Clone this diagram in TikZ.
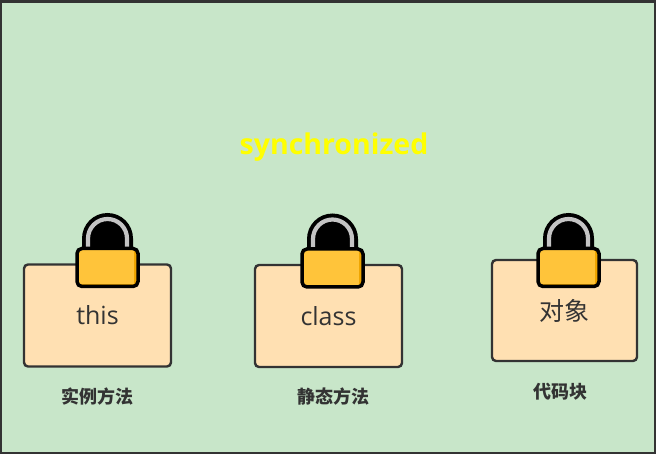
\documentclass[tikz,border=0pt]{standalone}
\usepackage{fontspec}
\setmainfont{Open Sans}
\newfontfamily\cjk{Noto Sans CJK SC}
\definecolor{bg}{HTML}{C8E6C9}
\definecolor{frame}{HTML}{333333}
\definecolor{boxfill}{HTML}{FFE0B2}
\definecolor{txt}{HTML}{333333}
\definecolor{lockyellow}{HTML}{FFC43A}
\definecolor{lockdark}{HTML}{EFA500}
\definecolor{ringgray}{HTML}{C4C4C4}
\definecolor{titleyellow}{HTML}{FFFF00}
\tikzset{
  box/.style={draw=frame, line width=2.4pt, fill=boxfill, rounded corners=4pt,
    text=txt, font=\fontsize{25}{29}\selectfont, inner sep=0pt},
  caption/.style={text=txt, font=\cjk\bfseries\fontsize{18}{21}\selectfont, inner sep=0pt},
  lock/.pic={
    \fill[black] (-25.5,4) -- (-25.5,-10) arc[start angle=180, end angle=360, radius=25.5] -- (25.5,4) -- cycle;
    \draw[ringgray, line width=4.2pt] (-19.5,4) -- (-19.5,-10) arc[start angle=180, end angle=360, radius=19.5] -- (19.5,4);
    \fill[lockyellow, rounded corners=5pt] (-30.5,0) rectangle (30.5,38);
    \begin{scope}
      \clip[rounded corners=5pt] (-30.5,0) rectangle (30.5,38);
      \fill[lockdark] (26,0) rectangle (31,38);
      \fill[lockdark] (-31,0) rectangle (-28.5,38);
      \fill[lockdark] (-31,36) rectangle (31,39);
    \end{scope}
    \draw[black, line width=3.5pt, rounded corners=5pt] (-30.5,0) rectangle (30.5,38);
  }
}
\begin{document}
\begin{tikzpicture}[x=1pt, y=-1pt]
\useasboundingbox (0,0) rectangle (656,454);
\fill[bg] (0,0) rectangle (656,454);
\draw[frame, line width=2pt] (1,1) rectangle (655,453);
\draw[frame, line width=3pt] (0,1.5) -- (656,1.5);

\node[text=titleyellow, font=\bfseries\fontsize{28.5}{32}\selectfont, anchor=base, inner sep=0pt] (title) at (334,155) {synchronized};

\node[box, minimum width=147pt, minimum height=102pt] (b1) at (97.5,315.5) {this};
\node[box, minimum width=147pt, minimum height=102pt] (b2) at (328.5,316) {class};
\node[box, minimum width=145pt, minimum height=101pt, font=\cjk\fontsize{25}{29}\selectfont] (b3) at (564.5,310.5) {对象};

\pic at (107.5,248.5) {lock};
\pic at (332.5,249) {lock};
\pic at (568.5,248.5) {lock};

\node[caption] (c1) at (97,397) {实例方法};
\node[caption] (c2) at (333,397) {静态方法};
\node[caption] (c3) at (560,392) {代码块};
\end{tikzpicture}
\end{document}
